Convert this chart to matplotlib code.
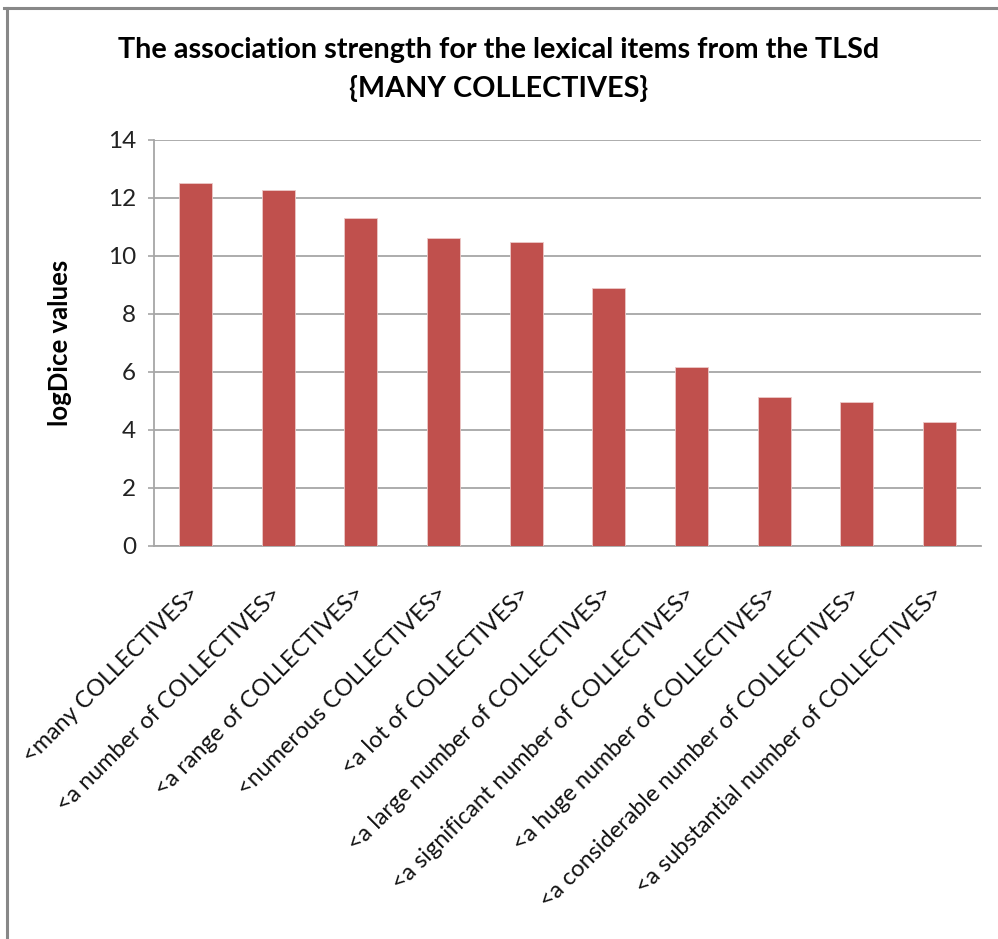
import numpy as np
import matplotlib
matplotlib.use("Agg")
from matplotlib import pyplot as plt
from matplotlib.lines import Line2D

plt.rcParams['font.family'] = ['Lato', 'DejaVu Sans']

items = [
    "<many COLLECTIVES>",
    "<a number of COLLECTIVES>",
    "<a range of COLLECTIVES>",
    "<numerous COLLECTIVES>",
    "<a lot of COLLECTIVES>",
    "<a large number of COLLECTIVES>",
    "<a significant number of COLLECTIVES>",
    "<a huge number of COLLECTIVES>",
    "<a considerable number of COLLECTIVES>",
    "<a substantial number of COLLECTIVES>",
]
logdice = [12.53, 12.26, 11.3, 10.63, 10.5, 8.91, 6.16, 5.15, 4.98, 4.27]
yticks = [0, 2, 4, 6, 8, 10, 12, 14]

W, H = 998, 939
fig = plt.figure(figsize=(W / 100, H / 100), dpi=100)
ax = fig.add_axes([154 / W, 1 - 546 / H, (981 - 154) / W, (546 - 140) / H])

x = np.arange(len(items))
ax.bar(x, logdice, width=0.4, color="#C0504D", edgecolor="#ecc9c8", linewidth=0.6, zorder=3)

ax.set_xlim(-0.5, len(items) - 0.5)
ax.set_ylim(0, 14)
ax.set_yticks(yticks)
ax.set_yticklabels([str(v) for v in yticks], fontsize=17.5, color="#222222")
ax.yaxis.grid(True, color="#a6a6a6", linewidth=1.3, zorder=0)
ax.tick_params(axis="y", length=4, width=1.2, color="#a6a6a6", pad=9)

ax.set_xticks(x)
ax.set_xticklabels(items, rotation=45, ha="right", va="center",
                   rotation_mode="anchor", fontsize=16.8, color="#111111")
ax.tick_params(axis="x", length=0, pad=32)

for side in ["top", "right"]:
    ax.spines[side].set_visible(False)
for side in ["left", "bottom"]:
    ax.spines[side].set_color("#a6a6a6")
    ax.spines[side].set_linewidth(1.3)

ax.set_ylabel("logDice values", fontsize=18.5, fontweight="bold", labelpad=26)

fig.text(499 / W, 1 - 50 / H, "The association strength for the lexical items from the TLSd",
         ha="center", va="center", fontsize=20.7, fontweight="bold")
fig.text(499 / W, 1 - 89 / H, "{MANY COLLECTIVES}",
         ha="center", va="center", fontsize=20.7, fontweight="bold")

# chart area frame (top and left edges)
fig.add_artist(Line2D([4 / W, 1.0], [1 - 8 / H, 1 - 8 / H], color="#888888", linewidth=2.2))
fig.add_artist(Line2D([7 / W, 7 / W], [0.0, 1 - 8 / H], color="#888888", linewidth=2.2))

fig.savefig("out.png", dpi=100, facecolor="white")
